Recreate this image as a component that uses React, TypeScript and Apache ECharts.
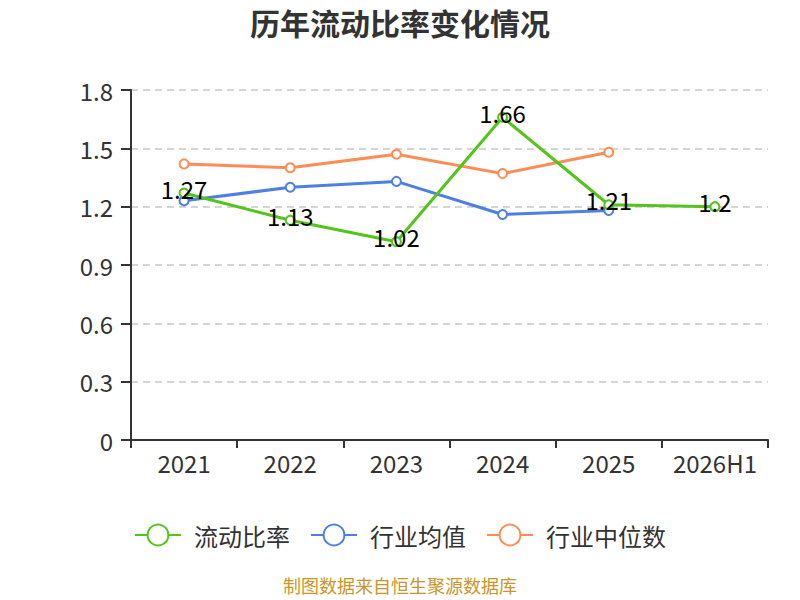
import React, { useEffect, useRef } from "react";
import * as echarts from "echarts";

const categories = ["2021", "2022", "2023", "2024", "2025", "2026H1"];
const currentRatio = [1.27, 1.13, 1.02, 1.66, 1.21, 1.2];
const industryAvg = [1.23, 1.3, 1.33, 1.16, 1.18, null];
const industryMedian = [1.42, 1.4, 1.47, 1.37, 1.48, null];

const FONT = "'Noto Sans CJK SC', 'Noto Sans', sans-serif";

export default function App() {
  const ref = useRef<HTMLDivElement>(null);
  useEffect(() => {
    if (!ref.current) return;
    const chart = echarts.init(ref.current, undefined, { renderer: "svg" });
    chart.setOption({
      animation: false,
      textStyle: { fontFamily: FONT },
      title: {
        text: "历年流动比率变化情况",
        left: "center",
        top: 2,
        textStyle: { fontSize: 30, fontWeight: "bold", color: "#333", fontFamily: FONT },
      },
      grid: { left: 131, right: 32, top: 90, bottom: 160 },
      legend: {
        top: 518,
        left: "center",
        itemWidth: 46,
        itemHeight: 26,
        itemGap: 20,
        itemStyle: { borderWidth: 2 },
        textStyle: {
          fontSize: 24,
          color: "#333",
          fontFamily: FONT,
          padding: [0, 0, 0, 8],
        },
        data: ["流动比率", "行业均值", "行业中位数"],
      },
      graphic: [
        {
          type: "text",
          left: "center",
          top: 576,
          style: {
            text: "制图数据来自恒生聚源数据库",
            fill: "#c8962a",
            fontSize: 18,
            fontFamily: FONT,
          },
        },
      ],
      xAxis: {
        type: "category",
        data: categories,
        boundaryGap: true,
        axisLine: { lineStyle: { color: "#333", width: 2 } },
        axisTick: { show: true, length: 8, lineStyle: { color: "#333", width: 2 } },
        axisLabel: { interval: 0, fontSize: 24, color: "#333", margin: 10, fontFamily: FONT },
      },
      yAxis: {
        type: "value",
        min: 0,
        max: 1.8,
        interval: 0.3,
        axisLine: { show: true, lineStyle: { color: "#333", width: 2 } },
        axisTick: { show: true, length: 10, lineStyle: { color: "#333", width: 2 } },
        axisLabel: { fontSize: 24, color: "#333", margin: 18, fontFamily: FONT },
        splitLine: { lineStyle: { type: [7, 5], color: "#c8c8c8", width: 1.5 } },
      },
      series: [
        {
          name: "流动比率",
          type: "line",
          data: currentRatio,
          symbol: "emptyCircle",
          symbolSize: 9,
          itemStyle: { color: "#52c41a" },
          lineStyle: { width: 3, color: "#52c41a" },
          label: {
            show: true,
            position: "inside",
            offset: [0, -5],
            fontSize: 24,
            color: "#000",
            fontFamily: FONT,
          },
          z: 3,
        },
        {
          name: "行业均值",
          type: "line",
          data: industryAvg,
          symbol: "emptyCircle",
          symbolSize: 9,
          itemStyle: { color: "#4e7fe3" },
          lineStyle: { width: 3, color: "#4e7fe3" },
          z: 2,
        },
        {
          name: "行业中位数",
          type: "line",
          data: industryMedian,
          symbol: "emptyCircle",
          symbolSize: 9,
          itemStyle: { color: "#ff8c55" },
          lineStyle: { width: 3, color: "#ff8c55" },
          z: 2,
        },
      ],
    });
    return () => chart.dispose();
  }, []);
  return (
    <div
      ref={ref}
      style={{ position: "absolute", left: 0, top: 0, width: 800, height: 600 }}
    />
  );
}
